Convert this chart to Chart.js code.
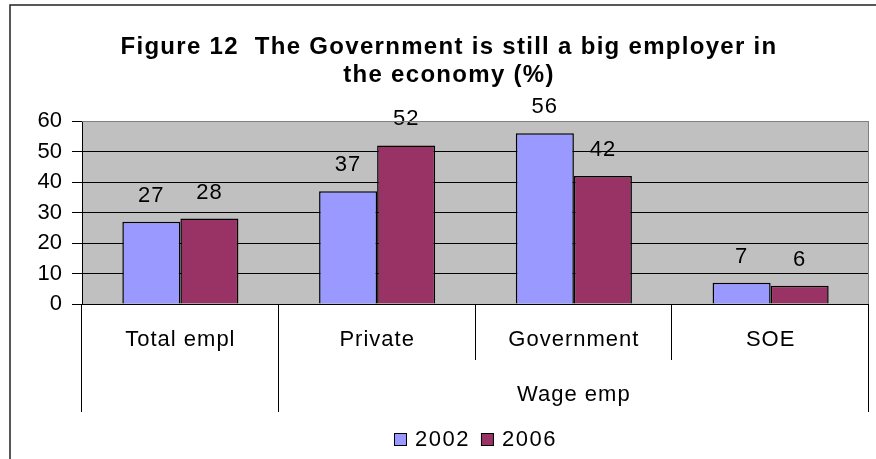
<!DOCTYPE html>
<html>
<head>
<meta charset="utf-8">
<script src="https://cdn.jsdelivr.net/npm/chart.js@4.4.0/dist/chart.umd.min.js"></script>
<style>
  html, body { margin: 0; padding: 0; background: #fff; }
  canvas { display: block; }
</style>
</head>
<body>
<canvas id="chart" width="876" height="459"></canvas>
<script>
// categories and their second-level grouping
const categories = ['Total empl', 'Private', 'Government', 'SOE'];
const groups = ['', 'Wage emp', 'Wage emp', 'Wage emp'];

// series
const seriesNames = ['2002', '2006'];
const values2002 = [27, 37, 56, 7];
const values2006 = [28, 52, 42, 6];

const yTicks = [0, 10, 20, 30, 40, 50, 60];
const titleLines = ['Figure 12  The Government is still a big employer in', 'the economy (%)'];

const FONT = '"Liberation Sans", Arial, sans-serif';
const colors = ['#9999FF', '#993366'];

// excel-ish decorations: plot background, borders, value labels,
// two-level category axis, title and legend
const decor = {
  id: 'decor',
  beforeDraw(chart) {
    const { ctx, chartArea: a } = chart;
    ctx.save();
    ctx.fillStyle = '#C0C0C0';
    ctx.fillRect(a.left, a.top, a.right - a.left, a.bottom - a.top);
    ctx.restore();
  },
  afterDatasetsDraw(chart) {
    const { ctx } = chart;
    ctx.save();
    ctx.font = '22px ' + FONT;
    ctx.letterSpacing = '1px';
    ctx.fillStyle = '#000';
    ctx.textAlign = 'center';
    ctx.textBaseline = 'middle';
    chart.data.datasets.forEach((ds, di) => {
      chart.getDatasetMeta(di).data.forEach((bar, i) => {
        ctx.fillText(String(ds.data[i]), bar.x, bar.y - 26);
      });
    });
    ctx.restore();
  },
  afterDraw(chart) {
    const { ctx, chartArea: a } = chart;
    const x = chart.scales.x;
    const n = categories.length;
    const w = (a.right - a.left) / n;
    ctx.save();

    // plot area border (top/right)
    ctx.strokeStyle = '#808080';
    ctx.lineWidth = 1;
    ctx.beginPath();
    ctx.moveTo(a.left, a.top + 0.5);
    ctx.lineTo(a.right - 0.5, a.top + 0.5);
    ctx.lineTo(a.right - 0.5, a.bottom);
    ctx.stroke();

    // category separators
    ctx.strokeStyle = '#000';
    ctx.beginPath();
    for (let i = 0; i <= n; i++) {
      const px = Math.round(i < n ? x.getPixelForValue(i) - w / 2 : x.getPixelForValue(n - 1) + w / 2) - 0.5;
      const long = i === 0 || i === n || groups[i] !== groups[i - 1];
      ctx.moveTo(px, a.bottom);
      ctx.lineTo(px, long ? 412 : 360);
    }
    ctx.stroke();

    ctx.fillStyle = '#000';
    ctx.textAlign = 'center';
    ctx.textBaseline = 'middle';
    ctx.font = '22px ' + FONT;
    ctx.letterSpacing = '1px';
    categories.forEach((c, i) => ctx.fillText(c, x.getPixelForValue(i), 340));

    // second level labels
    let start = 0;
    for (let i = 1; i <= n; i++) {
      if (i === n || groups[i] !== groups[start]) {
        if (groups[start]) {
          const cx = (x.getPixelForValue(start) + x.getPixelForValue(i - 1)) / 2;
          ctx.fillText(groups[start], cx, 395);
        }
        start = i;
      }
    }

    // title
    ctx.font = 'bold 24px ' + FONT;
    ctx.letterSpacing = '1.3px';
    titleLines.forEach((t, i) => ctx.fillText(t, 449, 47 + i * 28));

    // legend
    ctx.font = '22px ' + FONT;
    ctx.letterSpacing = '1.5px';
    ctx.textAlign = 'left';
    const box = 12, gap = 9, itemGap = 11;
    const widths = seriesNames.map(s => ctx.measureText(s).width);
    const total = widths.reduce((s, v) => s + box + gap + v, 0) + itemGap * (seriesNames.length - 1);
    let lx = Math.round(475 - total / 2);
    const ly = 439;
    seriesNames.forEach((s, i) => {
      ctx.fillStyle = colors[i];
      ctx.fillRect(lx + 0.5, ly - box / 2 + 0.5, box, box);
      ctx.strokeStyle = '#000';
      ctx.strokeRect(lx + 0.5, ly - box / 2 + 0.5, box, box);
      ctx.fillStyle = '#000';
      ctx.fillText(s, lx + box + gap, ly + 1);
      lx += box + gap + widths[i] + itemGap;
    });

    // outer frame
    ctx.strokeStyle = '#222';
    ctx.lineWidth = 1.5;
    ctx.beginPath();
    ctx.moveTo(10, 459);
    ctx.lineTo(10, 5);
    ctx.lineTo(876, 5);
    ctx.stroke();
    ctx.restore();
  }
};

new Chart(document.getElementById('chart'), {
  type: 'bar',
  data: {
    labels: categories,
    datasets: [
      { label: seriesNames[0], data: values2002, backgroundColor: colors[0], borderColor: '#000', borderWidth: 1.5 },
      { label: seriesNames[1], data: values2006, backgroundColor: colors[1], borderColor: '#000', borderWidth: 1.5 }
    ]
  },
  options: {
    responsive: false,
    animation: false,
    devicePixelRatio: 1,
    layout: { padding: { left: 10, top: 121, right: 7, bottom: 155 } },
    datasets: { bar: { categoryPercentage: 0.59, barPercentage: 1 } },
    plugins: { legend: { display: false }, title: { display: false }, tooltip: { enabled: false } },
    scales: {
      x: {
        grid: { display: false },
        border: { display: false },
        ticks: { display: false },
        afterFit(scale) { scale.height = 0; }
      },
      y: {
        min: 0,
        max: 60,
        afterBuildTicks(scale) { scale.ticks = yTicks.map(v => ({ value: v })); },
        afterFit(scale) { scale.width = 72; },
        grid: {
          color: c => (c.tick && c.tick.value === 60 ? '#808080' : '#000'),
          tickColor: '#000',
          tickLength: 10,
          lineWidth: 1
        },
        border: { display: true, color: '#000', width: 1 },
        ticks: { font: { family: FONT, size: 22 }, color: '#000', padding: 10 }
      }
    }
  },
  plugins: [decor]
});
</script>
</body>
</html>
